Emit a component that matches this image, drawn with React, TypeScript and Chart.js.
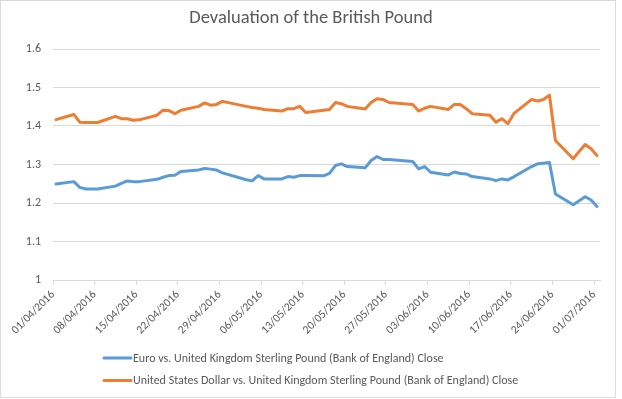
import React, { useEffect, useRef } from 'react';
import { Chart, registerables } from 'chart.js';

Chart.register(...registerables);

const chartTitle = 'Devaluation of the British Pound';

const seriesLabels = [
  'Euro vs. United Kingdom Sterling Pound (Bank of England) Close',
  'United States Dollar vs. United Kingdom Sterling Pound (Bank of England) Close',
];

const seriesColors = ['#5B9BD5', '#ED7D31'];

const dates = [
  '01/04/2016', '04/04/2016', '05/04/2016', '06/04/2016', '07/04/2016', '08/04/2016',
  '11/04/2016', '12/04/2016', '13/04/2016', '14/04/2016', '15/04/2016',
  '18/04/2016', '19/04/2016', '20/04/2016', '21/04/2016', '22/04/2016',
  '25/04/2016', '26/04/2016', '27/04/2016', '28/04/2016', '29/04/2016',
  '03/05/2016', '04/05/2016', '05/05/2016', '06/05/2016',
  '09/05/2016', '10/05/2016', '11/05/2016', '12/05/2016', '13/05/2016',
  '16/05/2016', '17/05/2016', '18/05/2016', '19/05/2016', '20/05/2016',
  '23/05/2016', '24/05/2016', '25/05/2016', '26/05/2016', '27/05/2016',
  '31/05/2016', '01/06/2016', '02/06/2016', '03/06/2016',
  '06/06/2016', '07/06/2016', '08/06/2016', '09/06/2016', '10/06/2016',
  '13/06/2016', '14/06/2016', '15/06/2016', '16/06/2016', '17/06/2016',
  '20/06/2016', '21/06/2016', '22/06/2016', '23/06/2016', '24/06/2016',
  '27/06/2016', '28/06/2016', '29/06/2016', '30/06/2016', '01/07/2016',
];

const eurValues = [
  1.2495, 1.2555, 1.2407, 1.2365, 1.2365, 1.2365,
  1.2438, 1.251, 1.2574, 1.2555, 1.2555,
  1.2615, 1.2668, 1.2712, 1.272, 1.2817,
  1.286, 1.2895, 1.288, 1.2855, 1.2783,
  1.2605, 1.2575, 1.271, 1.2626,
  1.2626, 1.2686, 1.2668, 1.2712, 1.2712,
  1.2705, 1.277, 1.2973, 1.3017, 1.2947,
  1.2913, 1.3103, 1.3208, 1.313, 1.313,
  1.3077, 1.2887, 1.2947, 1.2798,
  1.273, 1.2805, 1.2765, 1.2756, 1.2686,
  1.2626, 1.2582, 1.2626, 1.26, 1.268,
  1.2947, 1.3017, 1.3033, 1.305, 1.2234,
  1.1955, 1.206, 1.2164, 1.2078, 1.1911,
];

const usdValues = [
  1.4165, 1.43, 1.41, 1.409, 1.409, 1.409,
  1.425, 1.419, 1.419, 1.415, 1.416,
  1.428, 1.441, 1.44, 1.432, 1.441,
  1.451, 1.46, 1.454, 1.456, 1.464,
  1.451, 1.448, 1.446, 1.443,
  1.439, 1.445, 1.445, 1.451, 1.435,
  1.441, 1.443, 1.461, 1.458, 1.451,
  1.444, 1.461, 1.471, 1.469, 1.461,
  1.456, 1.439, 1.446, 1.451,
  1.443, 1.456, 1.456, 1.445, 1.432,
  1.428, 1.41, 1.419, 1.406, 1.432,
  1.469, 1.465, 1.469, 1.48, 1.3625,
  1.315, 1.334, 1.352, 1.341, 1.323,
];

const xTickLabels = [
  '01/04/2016', '08/04/2016', '15/04/2016', '22/04/2016', '29/04/2016',
  '06/05/2016', '13/05/2016', '20/05/2016', '27/05/2016', '03/06/2016',
  '10/06/2016', '17/06/2016', '24/06/2016', '01/07/2016',
];

const yMin = 1;
const yMax = 1.6;
const yStep = 0.1;

const FONT = 'Carlito, Calibri, Lato, "Open Sans", sans-serif';
const TEXT_COLOR = '#595959';
const GRID_COLOR = '#d9d9d9';

function dayIndex(s: string): number {
  const [d, m, y] = s.split('/').map(Number);
  return Math.round((Date.UTC(y, m - 1, d) - Date.UTC(2016, 3, 1)) / 86400000);
}

const tickDays = xTickLabels.map(dayIndex);
const xAxisMax = dayIndex(xTickLabels[xTickLabels.length - 1]) + 1;

const frameAndTextPlugin = {
  id: 'frameAndText',
  beforeDraw(chart: any) {
    const ctx = chart.ctx;
    ctx.save();
    ctx.fillStyle = '#ffffff';
    ctx.fillRect(0, 0, chart.width, chart.height);
    ctx.strokeStyle = GRID_COLOR;
    ctx.lineWidth = 1;
    ctx.strokeRect(0.5, 0.5, 615, 397);
    ctx.restore();
  },
  afterDraw(chart: any) {
    const ctx = chart.ctx;
    ctx.save();
    // title
    ctx.fillStyle = TEXT_COLOR;
    ctx.font = `18.5px ${FONT}`;
    ctx.textAlign = 'center';
    ctx.textBaseline = 'middle';
    ctx.fillText(chartTitle, 311, 18);
    // legend
    ctx.font = `12px ${FONT}`;
    const ds = chart.data.datasets;
    const widths = ds.map((d: any) => ctx.measureText(d.label).width);
    const blockW = 30 + Math.max(...widths);
    const x0 = Math.round((622 - blockW) / 2);
    ds.forEach((d: any, i: number) => {
      const y = 358 + i * 22.5;
      ctx.strokeStyle = d.borderColor;
      ctx.lineWidth = 3;
      ctx.lineCap = 'round';
      ctx.beginPath();
      ctx.moveTo(x0 + 1, y);
      ctx.lineTo(x0 + 28, y);
      ctx.stroke();
      ctx.fillStyle = TEXT_COLOR;
      ctx.textAlign = 'left';
      ctx.textBaseline = 'middle';
      ctx.fillText(d.label, x0 + 30, y + 0.5);
    });
    ctx.restore();
  },
};

export default function App() {
  const canvasRef = useRef<HTMLCanvasElement | null>(null);

  useEffect(() => {
    document.body.style.margin = '0';
    const canvas = canvasRef.current;
    if (!canvas) return;
    const seriesValues = [eurValues, usdValues];
    const chart = new Chart(canvas, {
      type: 'line',
      data: {
        datasets: seriesValues.map((vals, i) => ({
          label: seriesLabels[i],
          data: dates.map((d, j) => ({ x: dayIndex(d) + 0.5, y: vals[j] })),
          borderColor: seriesColors[i],
          backgroundColor: seriesColors[i],
          borderWidth: 3,
          pointRadius: 0,
          tension: 0,
          borderJoinStyle: 'round',
          borderCapStyle: 'round',
        })),
      },
      options: {
        animation: false,
        responsive: false,
        devicePixelRatio: 1,
        parsing: false,
        layout: { padding: { top: 49, right: 22, bottom: 59, left: 0 } },
        plugins: {
          legend: { display: false },
          title: { display: false },
          tooltip: { enabled: false },
        },
        scales: {
          x: {
            type: 'linear',
            min: 0,
            max: xAxisMax,
            afterBuildTicks(scale: any) {
              scale.ticks = tickDays.map((v) => ({ value: v }));
            },
            afterFit(scale: any) {
              scale.height = 60;
            },
            grid: {
              drawOnChartArea: false,
              drawTicks: true,
              tickLength: 5,
              color: GRID_COLOR,
            },
            border: { display: true, color: GRID_COLOR },
            ticks: {
              autoSkip: false,
              minRotation: 45,
              maxRotation: 45,
              padding: 3,
              color: TEXT_COLOR,
              font: { family: FONT, size: 11.5 },
              callback(value: any) {
                const idx = tickDays.indexOf(Math.round(Number(value)));
                return idx >= 0 ? xTickLabels[idx] : '';
              },
            },
          },
          y: {
            type: 'linear',
            min: yMin,
            max: yMax,
            afterFit(scale: any) {
              scale.width = 53;
            },
            grid: { color: GRID_COLOR, drawTicks: false },
            border: { display: false },
            ticks: {
              stepSize: yStep,
              padding: 12,
              color: TEXT_COLOR,
              font: { family: FONT, size: 12 },
              callback(value: any) {
                return String(Number(Number(value).toFixed(1)));
              },
            },
          },
        },
      },
      plugins: [frameAndTextPlugin],
    } as any);
    return () => chart.destroy();
  }, []);

  return (
    <div style={{ width: 622, height: 399 }}>
      <canvas ref={canvasRef} width={622} height={399} style={{ display: 'block' }} />
    </div>
  );
}
